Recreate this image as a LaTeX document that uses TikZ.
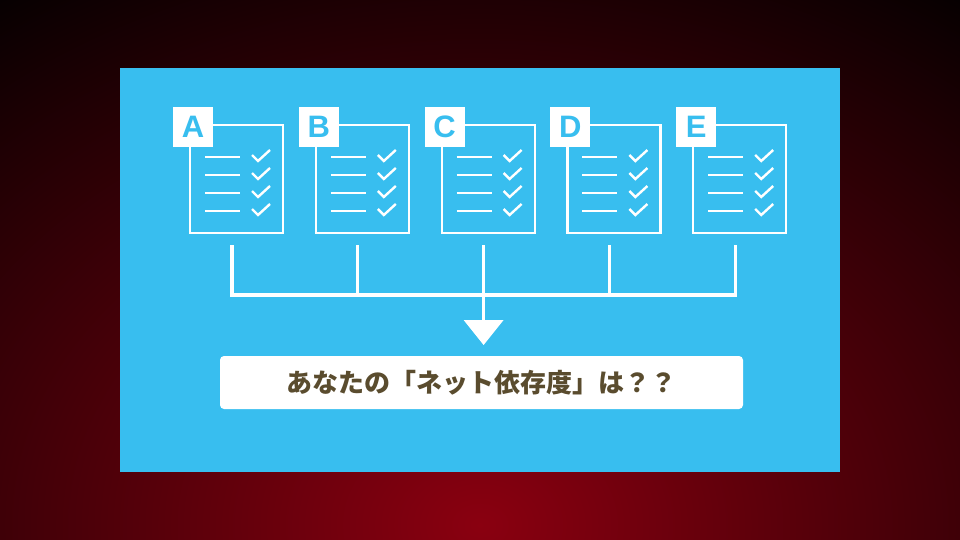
\documentclass[tikz,border=0pt]{standalone}
\usepackage{fontspec}
\newfontfamily\cjk{Noto Sans CJK JP}
\newfontfamily\tagfont{Liberation Sans}
\definecolor{panel}{HTML}{38BEEF}
\definecolor{labeltext}{HTML}{5A4C2E}
\definecolor{glow}{HTML}{8A0010}
\begin{document}
\begin{tikzpicture}[
    x=1pt, y=-1pt,
    doc/.style={draw=white, line width=2.2pt},
    tag/.style={fill=white, minimum size=40pt, inner sep=0pt, font=\tagfont\bfseries\fontsize{31}{31}\selectfont, text=panel},
    wire/.style={draw=white, line width=3.2pt},
    >=stealth
]
\useasboundingbox (0,0) rectangle (960,540);
\shade[inner color=glow, outer color=black] (-400,-150) rectangle (1360,1200);
\fill[panel] (120,68) rectangle (840,472);

\foreach \l [count=\i from 0] in {A,B,C,D,E} {
  \pgfmathsetmacro{\dx}{125.8*\i}
  \begin{scope}[xshift=\dx]
    \draw[doc] (190,125) rectangle (283,233);
    \node[tag] (tag\l) at (193,127) {\l};
    \foreach \yy in {157,175,193,211} {
      \draw[white, line width=2.2pt] (205,\yy) -- (240,\yy);
      \draw[white, line width=2.4pt] (252,\yy-2) -- (258,\yy+4) -- (270,\yy-7);
    }
    \coordinate (foot\l) at (232,245);
    \coordinate (join\l) at (232,295);
  \end{scope}
}
\draw[wire] (footA) -- (joinA) -- (joinE) -- (footE);
\foreach \l in {B,C,D} \draw[wire] (foot\l) -- (join\l);
\coordinate (tip) at ([yshift=-50pt]joinC);
\draw[wire] (joinC) -- ([yshift=-27pt]joinC);
\fill[white] ([xshift=-20pt,yshift=-25pt]joinC) -- ([xshift=20pt,yshift=-25pt]joinC) -- (tip) -- cycle;

\node[fill=white, rounded corners=4pt, minimum width=523pt, minimum height=53pt,
  text=labeltext, font=\cjk\bfseries\fontsize{26}{26}\selectfont] (question) at (481.5,382.5)
  {あなたの「ネット依存度」は？？};
\end{tikzpicture}
\end{document}
